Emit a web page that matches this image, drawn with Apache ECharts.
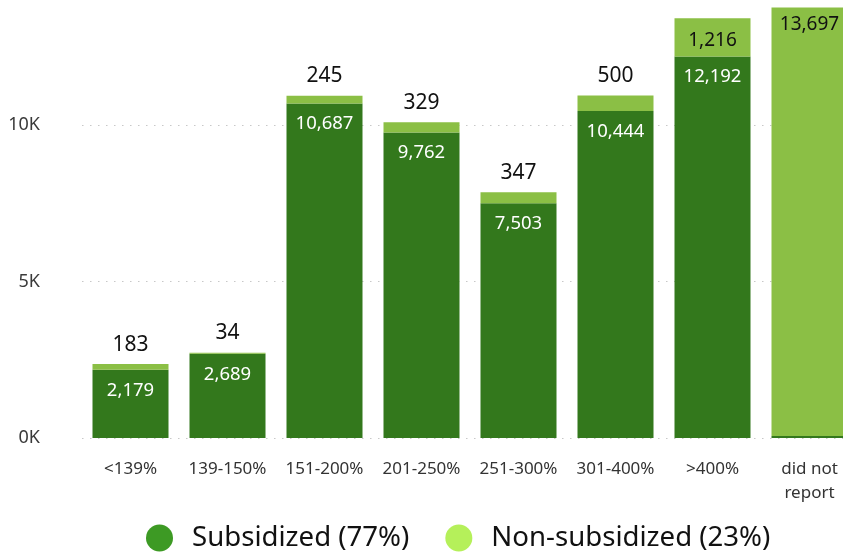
<!DOCTYPE html>
<html>
<head>
<meta charset="utf-8">
<script src="https://cdn.jsdelivr.net/npm/echarts@6/dist/echarts.min.js"></script>
<style>
  html, body { margin: 0; padding: 0; background: #fff; }
  #chart { width: 843px; height: 552px; }
</style>
</head>
<body>
<div id="chart"></div>
<script>
// 数据
var categories = ['<139%', '139-150%', '151-200%', '201-250%', '251-300%', '301-400%', '>400%', 'did not\nreport'];
var subsidized = [2179, 2689, 10687, 9762, 7503, 10444, 12192, 60];
var nonSubsidized = [183, 34, 245, 329, 347, 500, 1216, 13697];
var yTicks = [0, 5000, 10000, 15000];

var chart = echarts.init(document.getElementById('chart'));
var FONT = '"Noto Sans", sans-serif';

// 最后两根柱子的标签放在柱子里面
var nonSubData = nonSubsidized.map(function (v, i) {
    if (i >= 6) {
        return {
            value: v,
            label: { position: 'insideTop', distance: i === 6 ? 13 : 8, fontSize: 19 }
        };
    }
    return { value: v, label: { position: 'top', distance: 9 } };
});
var subData = subsidized.map(function (v, i) {
    return { value: v, label: { show: i < 7 } };
});

var option = {
    animation: false,
    textStyle: { fontFamily: FONT },
    grid: { left: 82, width: 776, top: -31.5, bottom: 114, containLabel: false, outerBoundsMode: 'none' },
    legend: {
        bottom: 0,
        left: 146,
        padding: 0,
        icon: 'circle',
        itemWidth: 27,
        itemHeight: 27,
        itemGap: 36,
        textStyle: { fontSize: 27.6, color: '#111', fontFamily: FONT, padding: [0, 0, 0, 14] },
        data: [
            { name: 'Subsidized (77%)', itemStyle: { color: '#3d9a24' } },
            { name: 'Non-subsidized (23%)', itemStyle: { color: '#b5f05a' } }
        ]
    },
    xAxis: {
        type: 'category',
        data: categories,
        axisLine: { show: false },
        axisTick: { show: false },
        axisLabel: { color: '#333', fontSize: 17, margin: 19, lineHeight: 24, interval: 0 }
    },
    yAxis: {
        type: 'value',
        min: yTicks[0],
        max: yTicks[yTicks.length - 1],
        interval: 5000,
        axisLine: { show: false },
        axisTick: { show: false },
        axisLabel: {
            color: '#3a3a3a',
            fontSize: 18,
            margin: 42,
            formatter: function (v) { return (v / 1000) + 'K'; }
        },
        splitLine: { lineStyle: { color: '#c8c8c8', type: [1.5, 6.5], width: 1.2 } }
    },
    series: [{
        name: 'Subsidized (77%)',
        type: 'bar',
        stack: 'total',
        barWidth: 76,
        itemStyle: { color: '#33781c' },
        label: {
            show: true,
            position: 'insideTop',
            distance: 11,
            color: '#fff',
            fontSize: 18.5,
            formatter: function (p) { return p.value.toLocaleString('en-US'); }
        },
        data: subData
    }, {
        name: 'Non-subsidized (23%)',
        type: 'bar',
        stack: 'total',
        barWidth: 76,
        itemStyle: { color: '#8bbf45' },
        label: {
            show: true,
            color: '#111',
            fontSize: 21,
            formatter: function (p) { return p.value.toLocaleString('en-US'); }
        },
        data: nonSubData
    }]
};

chart.setOption(option);

window.onresize = function () {
    chart.resize();
};
</script>
</body>
</html>
